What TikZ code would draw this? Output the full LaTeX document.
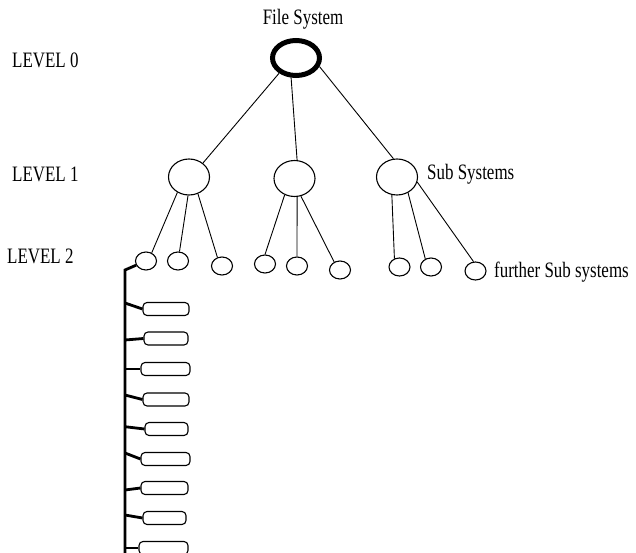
\documentclass[tikz,border=0pt]{standalone}
\usepackage{fontspec}
\setmainfont{Liberation Serif}
\usetikzlibrary{shapes.geometric}
\begin{document}
\begin{tikzpicture}[x=1pt,y=-1pt,
  lbl/.style={inner sep=0pt, font=\fontsize{22}{24}\selectfont},
  rootnode/.style={ellipse, draw, line width=5pt, minimum width=47pt, minimum height=35pt, inner sep=0pt},
  lone/.style={ellipse, draw, line width=1.1pt, minimum width=41pt, minimum height=36pt, inner sep=0pt},
  ltwo/.style={ellipse, draw, line width=1.1pt, minimum width=21pt, minimum height=18pt, inner sep=0pt},
  filebox/.style={draw, rounded corners=4pt, line width=1.1pt, minimum height=13pt, inner sep=0pt},
  conn/.style={line width=0.9pt},
  spine/.style={line width=2.8pt}]
\useasboundingbox (0,0) rectangle (636,553);
% labels
\node[lbl, anchor=base west] (l0) at (12,68) {\scalebox{0.77}[1]{LEVEL 0}};
\node[lbl, anchor=base west] (l1) at (12,182) {\scalebox{0.77}[1]{LEVEL 1}};
\node[lbl, anchor=base west] (l2) at (7,263) {\scalebox{0.77}[1]{LEVEL 2}};
\node[lbl, anchor=base] (tfs) at (303,25) {\scalebox{0.77}[1]{File System}};
\node[lbl, anchor=base west] (tss) at (427,180) {\scalebox{0.77}[1]{Sub Systems}};
\node[lbl, anchor=base west] (tfss) at (494,277) {\scalebox{0.77}[1]{further Sub systems}};
% level 0 and 1
\node[rootnode] (fs) at (296,58) {};
\node[lone] (a) at (189,177) {};
\node[lone] (b) at (294.5,178.5) {};
\node[lone] (c) at (397,177) {};
\draw[conn] (fs.-138) -- (a.45);
\draw[conn] (fs.-104) -- (b.82);
\draw[conn] (fs.-20) -- (c.101);
% level 2
\node[ltwo] (a1) at (146,261) {};
\node[ltwo] (a2) at (178,261) {};
\node[ltwo] (a3) at (222,266) {};
\node[ltwo] (b1) at (265,264) {};
\node[ltwo] (b2) at (297,266) {};
\node[ltwo] (b3) at (340,270) {};
\node[ltwo] (c1) at (399.5,267) {};
\node[ltwo] (c2) at (431,267) {};
\node[ltwo] (c3) at (475.5,271) {};
\draw[conn] (a.-127) -- (a1.55);
\draw[conn] (a.-93) -- (a2.81);
\draw[conn] (a.-62) -- (a3.118);
\draw[conn] (b.-121) -- (b1.90);
\draw[conn] (b.-82) -- (b2.90);
\draw[conn] (b.-70) -- (b3.126);
\draw[conn] (c.-106) -- (c1.121);
\draw[conn] (c.-55) -- (c2.125);
\draw[conn] (c.-14) -- (c3.102);
% spine and files
\coordinate (vt) at (125,270);
\coordinate (vb) at (125,560);
\draw[spine] (a1.-157) -- (vt) -- (vb);
\foreach \i/\cx/\cy/\w/\jy in {1/166/309/46/303, 2/166/338.5/44/340, 3/165.5/369/49/369, 4/166/399.5/46/395, 5/166.5/429/43/426.7, 6/165.5/459/49/453, 7/164.5/488/47/490, 8/164.5/518/43/515, 9/163.5/548/49/548}{
  \node[filebox, minimum width=\w pt] (r\i) at (\cx,\cy) {};
  \coordinate (j\i) at (125,\jy);
  \draw[spine] (j\i) -- (r\i.west);
}
\end{tikzpicture}
\end{document}
